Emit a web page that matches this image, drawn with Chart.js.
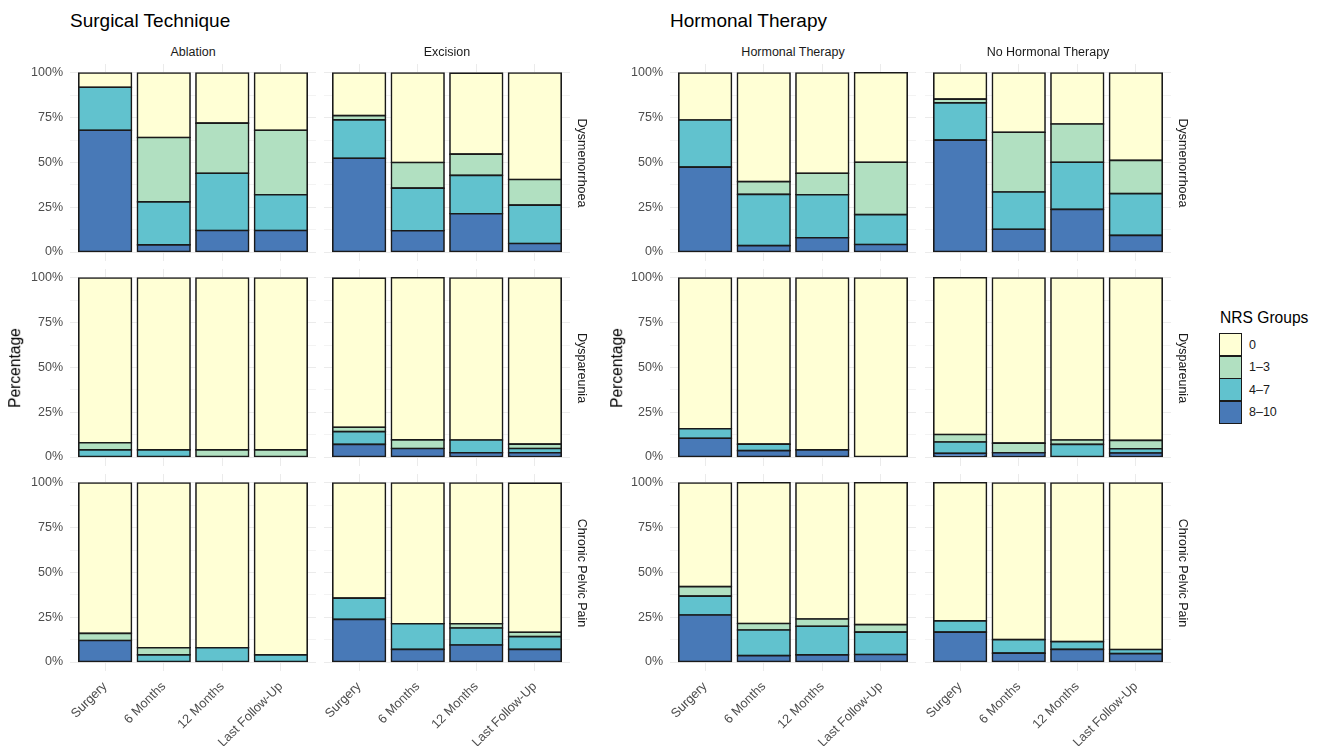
<!DOCTYPE html>
<html>
<head>
<meta charset="utf-8">
<title>NRS Groups by Surgical Technique and Hormonal Therapy</title>
<script src="https://cdn.jsdelivr.net/npm/chart.js@4.4.1/dist/chart.umd.min.js"></script>
<style>
    body { margin: 0; background: #fff; font-family: "Liberation Sans", Arial, sans-serif; }
    #wrap { position: relative; width: 1321px; height: 746px; overflow: hidden; background: #fff; }
    #wrap canvas { position: absolute; }
    .lbl { position: absolute; white-space: nowrap; line-height: 1; color: #1a1a1a; }
    .key { position: absolute; box-sizing: border-box; border: 1.5px solid #1a1a1a; }
</style>
</head>
<body>
<div id="wrap"></div>
<script>
/* ---------------------------------------------------------------- */
/* DATA                                                             */
/* ---------------------------------------------------------------- */

    var timepoints  = ['Surgery', '6 Months', '12 Months', 'Last Follow-Up'];
    var nrsGroups   = ['0', '1–3', '4–7', '8–10'];
    var outcomes    = ['Dysmenorrhoea', 'Dyspareunia', 'Chronic Pelvic Pain'];
    var panelTitles = ['Surgical Technique', 'Hormonal Therapy'];
    var facetNames  = ['Ablation', 'Excision', 'Hormonal Therapy', 'No Hormonal Therapy'];
    var yTicks      = [0, 12.5, 25, 37.5, 50, 62.5, 75, 87.5, 100];

    // rows: NRS 0, 1–3, 4–7, 8–10 (percent) ; columns: timepoints
    var ablationDysmenorrhoea = [
        [8, 36, 28, 32],
        [0, 36, 28, 36],
        [24, 24, 32, 20],
        [68, 4, 12, 12]
    ];
    var excisionDysmenorrhoea = [
        [23.8, 50.0, 45.2, 59.5],
        [2.4, 14.3, 11.9, 14.3],
        [21.4, 23.8, 21.4, 21.4],
        [52.4, 11.9, 21.4, 4.8]
    ];
    var hormonalDysmenorrhoea = [
        [26.3, 60.7, 56, 50],
        [0, 7.1, 12, 29.2],
        [26.3, 28.6, 24, 16.7],
        [47.4, 3.6, 8, 4.2]
    ];
    var noHormonalDysmenorrhoea = [
        [14.6, 33.1, 28.5, 48.8],
        [2.1, 33.4, 21.4, 18.6],
        [20.8, 20.8, 26.3, 23.3],
        [62.5, 12.7, 23.8, 9.3]
    ];

    var ablationDyspareunia = [
        [92, 96, 96, 96],
        [4, 0, 4, 4],
        [4, 4, 0, 0],
        [0, 0, 0, 0]
    ];
    var excisionDyspareunia = [
        [83.3, 90.5, 90.5, 92.8],
        [2.4, 4.8, 0, 2.4],
        [7.1, 0, 7.1, 2.4],
        [7.1, 4.8, 2.4, 2.4]
    ];
    var hormonalDyspareunia = [
        [84.2, 92.8, 96, 100],
        [0, 0, 0, 0],
        [5.3, 3.6, 0, 0],
        [10.5, 3.6, 4, 0]
    ];
    var noHormonalDyspareunia = [
        [87.5, 92.2, 90.5, 90.7],
        [4.2, 5.4, 2.4, 4.7],
        [6.3, 0, 7.1, 2.3],
        [2.1, 2.4, 0, 2.3]
    ];

    var ablationPelvicPain = [
        [84, 92, 92, 96],
        [4, 4, 0, 0],
        [0, 4, 8, 4],
        [12, 0, 0, 0]
    ];
    var excisionPelvicPain = [
        [64.3, 78.6, 78.6, 83.3],
        [0, 0, 2.4, 2.4],
        [11.9, 14.3, 9.5, 7.1],
        [23.8, 7.1, 9.5, 7.1]
    ];
    var hormonalPelvicPain = [
        [57.9, 78.6, 76, 79.2],
        [5.3, 3.6, 4, 4.2],
        [10.5, 14.3, 16, 12.5],
        [26.3, 3.6, 4, 4.2]
    ];
    var noHormonalPelvicPain = [
        [77.1, 87.5, 88.6, 93.0],
        [0, 0, 0, 0],
        [6.3, 7.5, 4.3, 2.3],
        [16.7, 5.0, 7.1, 4.7]
    ];

    // facet columns x outcome rows
    var facetTable = [
        [ablationDysmenorrhoea, ablationDyspareunia, ablationPelvicPain],
        [excisionDysmenorrhoea, excisionDyspareunia, excisionPelvicPain],
        [hormonalDysmenorrhoea, hormonalDyspareunia, hormonalPelvicPain],
        [noHormonalDysmenorrhoea, noHormonalDyspareunia, noHormonalPelvicPain]
    ];

/* ---------------------------------------------------------------- */
/* STYLE / LAYOUT                                                   */
/* ---------------------------------------------------------------- */

    // YlGnBu (4) at alpha .83 over white
    var groupColors = ['#FFFFD5', '#B1E0C1', '#61C2CE', '#4879B7'];

    var FONT = '"Liberation Sans", Arial, sans-serif';
    var PANEL_LEFT = [70, 324, 670, 925];
    var PANEL_TOP  = [64, 269, 474];
    var PANEL_W = 246, PANEL_H = 197;
    var AXIS_W = 60, PAD_R = 10, AXIS_H = 110;

    Chart.defaults.font.family = FONT;

    var wrap = document.getElementById('wrap');

    function addLabel(text, css){
        var d = document.createElement('div');
        d.className = 'lbl';
        d.textContent = text;
        for (var k in css) d.style[k] = css[k];
        wrap.appendChild(d);
        return d;
    }

/* ---------------------------------------------------------------- */
/* FACETS                                                           */
/* ---------------------------------------------------------------- */

    function buildFacet(col, row){
        var rows = facetTable[col][row];
        var isBottom = (row === 2);
        var isFirst  = (col === 0 || col === 2);

        var cv = document.createElement('canvas');
        var w = PANEL_W + AXIS_W + PAD_R;
        var h = PANEL_H + (isBottom ? AXIS_H : 0);
        cv.width = w; cv.height = h;
        cv.style.left = (PANEL_LEFT[col] - AXIS_W) + 'px';
        cv.style.top = PANEL_TOP[row] + 'px';
        cv.style.width = w + 'px'; cv.style.height = h + 'px';
        wrap.appendChild(cv);

        // stack bottom-up: 8–10 first, "0" on top
        var datasets = [];
        for (var g = nrsGroups.length - 1; g >= 0; g--){
            datasets.push({
                label: nrsGroups[g],
                data: rows[g].map(function(v, i){ return { x: i + 1, y: v === 0 ? null : v }; }),
                backgroundColor: groupColors[g]
            });
        }

        new Chart(cv.getContext('2d'), {
            type: 'bar',
            data: { datasets: datasets },
            options: {
                responsive: false,
                animation: false,
                devicePixelRatio: 1,
                layout: { padding: { left: 0, right: PAD_R, top: 0, bottom: 0 } },
                plugins: { legend: { display: false }, tooltip: { enabled: false } },
                datasets: {
                    bar: {
                        categoryPercentage: 1,
                        barPercentage: 0.9,
                        borderWidth: 1.6,
                        borderColor: '#1a1a1a',
                        borderSkipped: false,
                        inflateAmount: 0.8
                    }
                },
                scales: {
                    x: {
                        type: 'linear', stacked: true, min: 0.4, max: 4.6, offset: false,
                        grid: { offset: false, color: '#ebebeb', lineWidth: 1, drawTicks: false },
                        border: { display: false },
                        afterBuildTicks: function(s){ s.ticks = timepoints.map(function(t, i){ return { value: i + 1 }; }); },
                        afterFit: function(s){ s.height = isBottom ? AXIS_H : 0; s.paddingLeft = 0; s.paddingRight = 0; },
                        ticks: {
                            display: isBottom, autoSkip: false, minRotation: 45, maxRotation: 45,
                            padding: 8, color: '#4d4d4d', font: { size: 12.8 },
                            callback: function(v){ return timepoints[v - 1]; }
                        }
                    },
                    y: {
                        stacked: true, min: -5, max: 105,
                        grid: {
                            drawTicks: false, lineWidth: 1,
                            color: function(c){ return (c.tick && c.tick.value % 25 === 0) ? '#ebebeb' : '#f3f3f3'; }
                        },
                        border: { display: false },
                        afterBuildTicks: function(s){ s.ticks = yTicks.map(function(v){ return { value: v }; }); },
                        afterFit: function(s){ s.width = AXIS_W; s.paddingTop = 0; s.paddingBottom = 0; },
                        ticks: {
                            display: isFirst, padding: 7, color: '#4d4d4d', font: { size: 12.5 },
                            callback: function(v){ return v % 25 === 0 ? v + '%' : ''; }
                        }
                    }
                }
            }
        });
    }

    for (var c = 0; c < 4; c++){
        for (var r = 0; r < 3; r++) buildFacet(c, r);
    }

/* ---------------------------------------------------------------- */
/* TEXT: TITLES, STRIPS, AXIS TITLES                                */
/* ---------------------------------------------------------------- */

    addLabel(panelTitles[0], { left: '70px', top: '11px', fontSize: '19px', color: '#000' });
    addLabel(panelTitles[1], { left: '670px', top: '11px', fontSize: '19px', color: '#000' });

    facetNames.forEach(function(name, i){
        addLabel(name, { left: (PANEL_LEFT[i] + PANEL_W / 2) + 'px', top: '46px', fontSize: '12.5px', transform: 'translateX(-50%)' });
    });

    [1, 3].forEach(function(col){
        outcomes.forEach(function(name, r){
            addLabel(name, {
                left: (PANEL_LEFT[col] + PANEL_W + 12) + 'px',
                top: (PANEL_TOP[r] + PANEL_H / 2) + 'px',
                fontSize: '12.5px',
                transform: 'translate(-50%, -50%) rotate(90deg)'
            });
        });
    });

    [15, 617].forEach(function(x){
        addLabel('Percentage', {
            left: x + 'px', top: ((PANEL_TOP[0] + PANEL_TOP[2] + PANEL_H) / 2) + 'px',
            fontSize: '15.6px', color: '#000',
            transform: 'translate(-50%, -50%) rotate(-90deg)'
        });
    });

/* ---------------------------------------------------------------- */
/* LEGEND                                                           */
/* ---------------------------------------------------------------- */

    addLabel('NRS Groups', { left: '1220px', top: '310px', fontSize: '15.6px', color: '#000' });
    nrsGroups.forEach(function(name, i){
        var top = 333 + i * 22.5;
        var k = document.createElement('div');
        k.className = 'key';
        k.style.left = '1219px'; k.style.top = top + 'px';
        k.style.width = '23px'; k.style.height = '23px';
        k.style.background = groupColors[i];
        wrap.appendChild(k);
        addLabel(name, { left: '1249px', top: (top + 11.5) + 'px', fontSize: '12.5px', color: '#1a1a1a', transform: 'translateY(-50%)' });
    });
</script>
</body>
</html>
